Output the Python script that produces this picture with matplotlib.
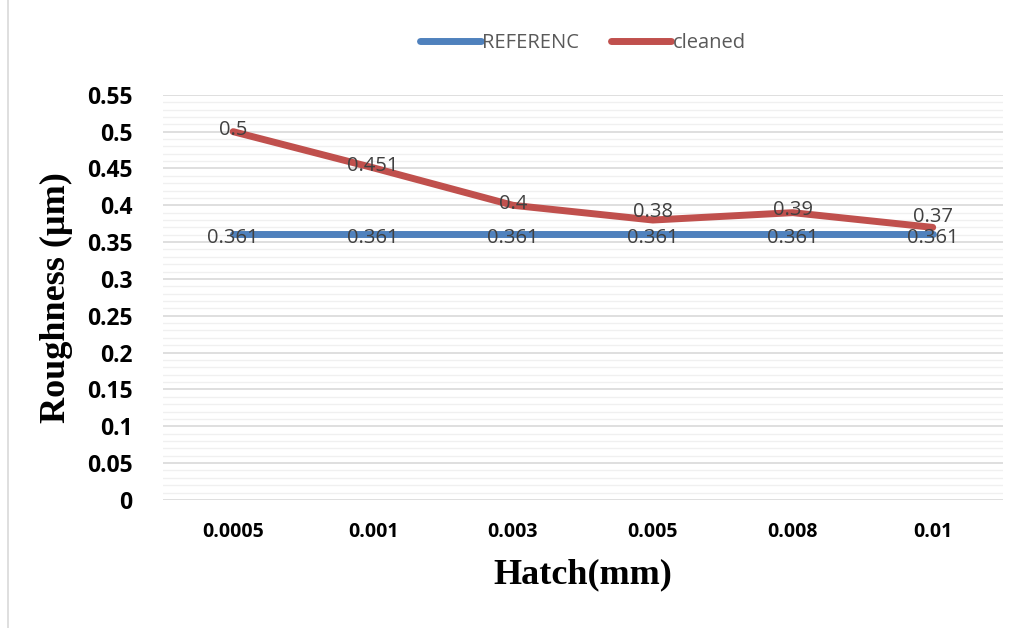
import numpy as np, matplotlib
matplotlib.use('Agg'); import matplotlib.pyplot as plt
from matplotlib.ticker import MultipleLocator, FuncFormatter
from matplotlib.patches import Rectangle

hatch = ['0.0005', '0.001', '0.003', '0.005', '0.008', '0.01']
reference = [0.361, 0.361, 0.361, 0.361, 0.361, 0.361]
cleaned = [0.5, 0.451, 0.4, 0.38, 0.39, 0.37]
yticks = [0, 0.05, 0.1, 0.15, 0.2, 0.25, 0.3, 0.35, 0.4, 0.45, 0.5, 0.55]

BLUE, RED, GREY = '#4F81BD', '#C0504D', '#404040'
fig = plt.figure(figsize=(10.2, 6.28), dpi=100)
ax = fig.add_axes([0.160, 0.204, 0.823, 0.645])
x = np.arange(len(hatch))

ax.plot(x, reference, color=BLUE, lw=5, solid_capstyle='round', label='REFERENC', zorder=3)
ax.plot(x, cleaned, color=RED, lw=5, solid_capstyle='round', label='cleaned', zorder=3)
for xi, v in zip(x, reference):
    ax.text(xi, v - 0.005, f'{v:g}', ha='center', va='center', fontsize=14.5, color=GREY, family='Open Sans', zorder=4)
# nudge labels that sit close to the reference line
nudge = [0.002, 0.002, 0.002, 0.011, 0.004, 0.014]
for xi, v, dy in zip(x, cleaned, nudge):
    ax.text(xi, v + dy, f'{v:g}', ha='center', va='center', fontsize=14.5, color=GREY, family='Open Sans', zorder=4)

ax.set_xlim(-0.5, 5.5); ax.set_ylim(0, 0.55)
ax.set_yticks(yticks)
ax.yaxis.set_major_formatter(FuncFormatter(lambda v, _: f'{v:g}'))
ax.yaxis.set_minor_locator(MultipleLocator(0.01))
ax.grid(True, which='major', axis='y', color='#D9D9D9', lw=1.2)
ax.grid(True, which='minor', axis='y', color='#F0F0F0', lw=1.0)
ax.set_axisbelow(True)
for s in ax.spines.values(): s.set_visible(False)
ax.tick_params(axis='both', which='both', length=0)
ax.tick_params(axis='y', pad=22)
ax.tick_params(axis='x', pad=16)
ax.set_xticks(x, hatch)
for t in ax.get_yticklabels():
    t.set_fontweight('bold'); t.set_fontsize(16.5); t.set_family('Open Sans')
for t in ax.get_xticklabels():
    t.set_fontweight('bold'); t.set_fontsize(14); t.set_family('Open Sans')

ax.set_ylabel('Roughness (µm)', fontsize=26, fontweight='bold', family='Liberation Serif', labelpad=10)
ax.set_xlabel('Hatch(mm)', fontsize=26, fontweight='bold', family='Liberation Serif', labelpad=12)

leg = ax.legend(loc='center', bbox_to_anchor=(0.5, 1.128), ncol=2, frameon=False,
                prop={'family': 'Open Sans', 'size': 14.5}, handlelength=3.0, handletextpad=0.05, columnspacing=1.6)
for t in leg.get_texts(): t.set_color('#595959')

fig.patches.append(Rectangle((0.008, -0.01), 1.2, 1.2, transform=fig.transFigure, fill=False, edgecolor='#D9D9D9', lw=1.2))
fig.savefig('out.png', dpi=100)
